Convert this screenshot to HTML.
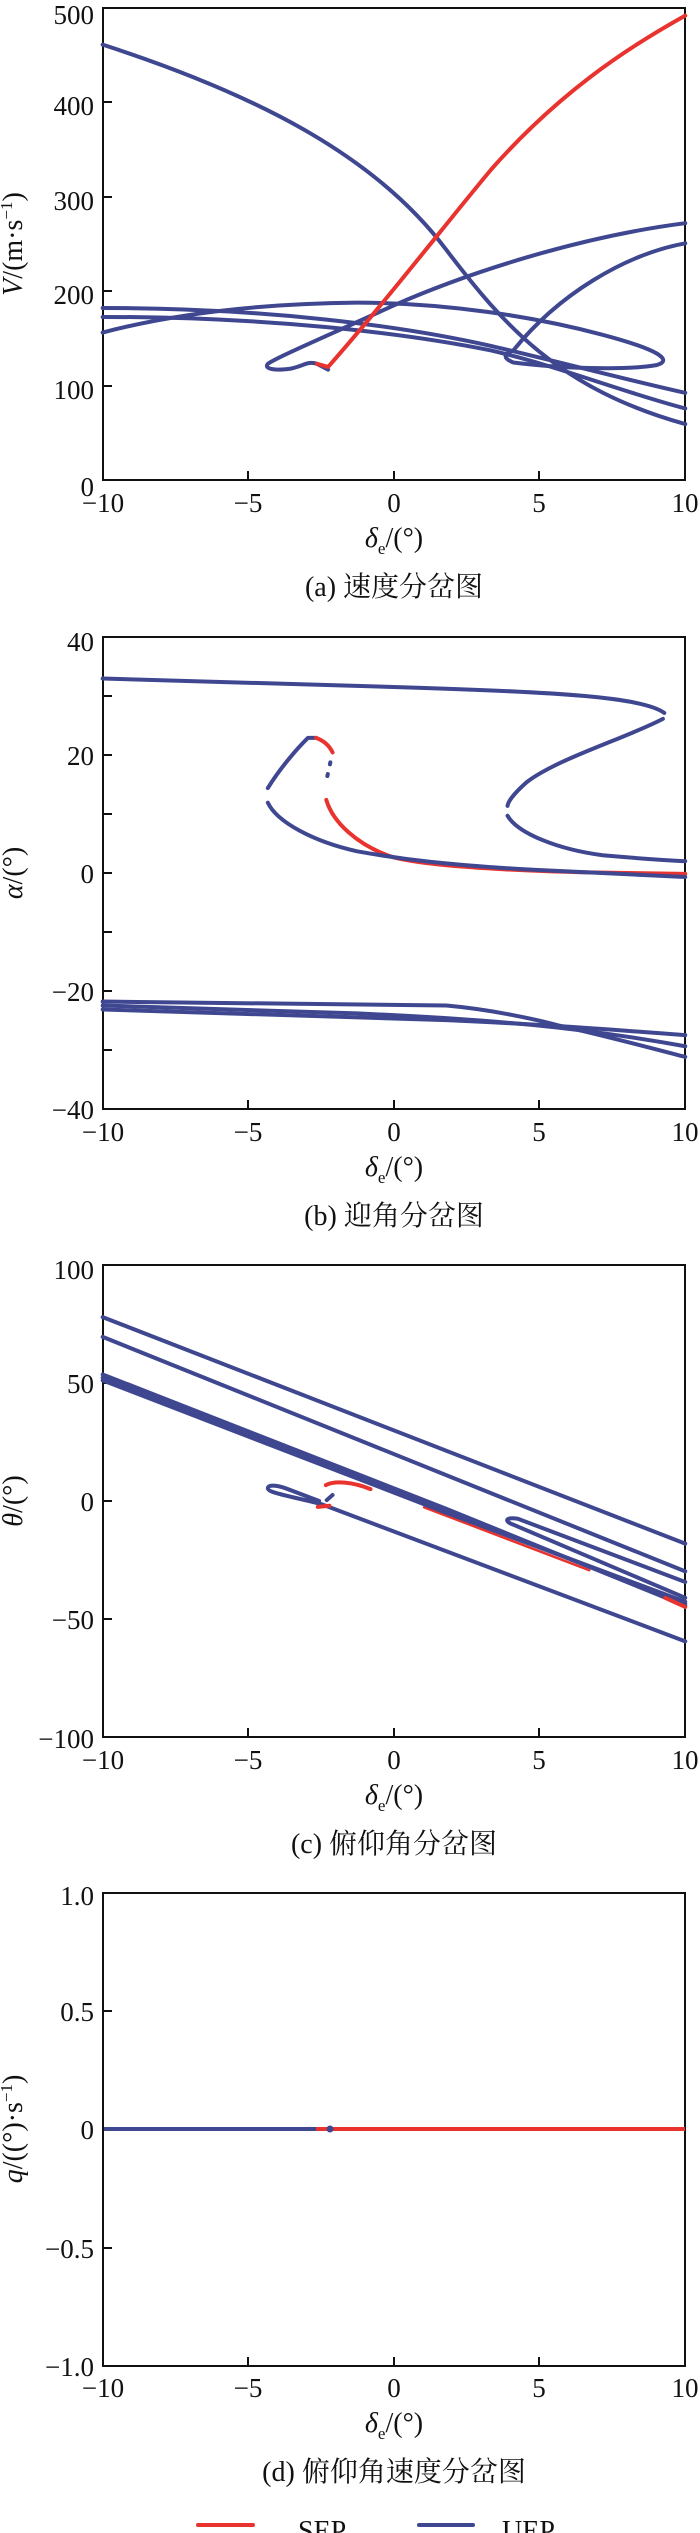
<!DOCTYPE html>
<html><head><meta charset="utf-8"><style>
html,body{margin:0;padding:0;background:#fff;}
svg{display:block;}
text{font-family:"Liberation Serif","Noto Serif CJK SC","Noto Sans CJK SC",serif;fill:#111;}
.b{fill:none;stroke:#3f4790;stroke-width:4;stroke-linecap:round;stroke-linejoin:round;vector-effect:non-scaling-stroke;}
.r{fill:none;stroke:#e8332f;stroke-width:4;stroke-linecap:round;stroke-linejoin:round;vector-effect:non-scaling-stroke;}
.rt{fill:none;stroke:#e8332f;stroke-width:2.5;stroke-linecap:round;vector-effect:non-scaling-stroke;}
.ax{fill:none;stroke:#111;stroke-width:2;}
.tk{font-size:27px;}
.lab{font-size:28px;}
</style></head><body>
<svg width="700" height="2533" viewBox="0 0 700 2533" xmlns="http://www.w3.org/2000/svg">

<!-- Panel a -->
<g>
<rect class="ax" x="103" y="8" width="582" height="472"/>
<g stroke="#111" stroke-width="2">
<line x1="248" y1="480" x2="248" y2="471"/><line x1="394" y1="480" x2="394" y2="471"/><line x1="539" y1="480" x2="539" y2="471"/>
<line x1="103" y1="386" x2="112" y2="386"/><line x1="103" y1="291" x2="112" y2="291"/><line x1="103" y1="197" x2="112" y2="197"/><line x1="103" y1="102" x2="112" y2="102"/>
</g>
<g class="tk" text-anchor="end">
<text x="94" y="496">0</text><text x="94" y="399">100</text><text x="94" y="304">200</text><text x="94" y="210">300</text><text x="94" y="115">400</text><text x="94" y="24">500</text>
</g>
<g class="tk" text-anchor="middle">
<text x="103" y="512">−10</text><text x="248" y="512">−5</text><text x="394" y="512">0</text><text x="539" y="512">5</text><text x="685" y="512">10</text>
</g>
<text class="lab" transform="translate(22,244) rotate(-90)" text-anchor="middle"><tspan font-style="italic">V</tspan>/(m·s<tspan font-size="17" dy="-10">−1</tspan><tspan dy="10">)</tspan></text>
<text class="lab" x="394" y="547" text-anchor="middle"><tspan font-style="italic">δ</tspan><tspan font-size="17" dy="7">e</tspan><tspan dy="-7">/(°)</tspan></text>
<text class="lab" x="394" y="596" text-anchor="middle">(a) 速度分岔图</text>
<g transform="scale(0.4464)">
<path class="b" d="M230,100 C600,220 850,360 1000,560 C1130,730 1250,870 1535,950"/>
<path class="b" d="M230,745 C400,700 600,680 800,678 C1000,678 1200,710 1350,750 C1500,790 1500,810 1470,818 C1400,830 1250,825 1150,812 C1120,800 1135,790 1150,785 C1250,660 1400,570 1535,545"/>
<path class="b" d="M230,690 C600,690 900,730 1100,775 C1250,810 1400,850 1535,880"/>
<path class="b" d="M230,710 C600,710 900,745 1100,785 C1250,820 1400,880 1535,915"/>
<path class="b" d="M1535,500 C1300,530 1050,610 880,685 C750,745 620,800 600,815 C590,828 620,830 650,826 C680,820 690,808 710,815 L735,828"/>
<path class="r" d="M710,815 L735,822 C860,680 1000,500 1100,380 C1250,210 1400,110 1535,35"/>
</g>
</g>

<!-- Panel b -->
<g>
<rect class="ax" x="103" y="637" width="582" height="472"/>
<g stroke="#111" stroke-width="2">
<line x1="248" y1="1109" x2="248" y2="1100"/><line x1="394" y1="1109" x2="394" y2="1100"/><line x1="539" y1="1109" x2="539" y2="1100"/>
<line x1="103" y1="1050" x2="112" y2="1050"/><line x1="103" y1="991" x2="112" y2="991"/><line x1="103" y1="932" x2="112" y2="932"/><line x1="103" y1="873" x2="112" y2="873"/><line x1="103" y1="814" x2="112" y2="814"/><line x1="103" y1="755" x2="112" y2="755"/><line x1="103" y1="696" x2="112" y2="696"/>
</g>
<g class="tk" text-anchor="end">
<text x="94" y="1119">−40</text><text x="94" y="1001">−20</text><text x="94" y="883">0</text><text x="94" y="765">20</text><text x="94" y="651">40</text>
</g>
<g class="tk" text-anchor="middle">
<text x="103" y="1141">−10</text><text x="248" y="1141">−5</text><text x="394" y="1141">0</text><text x="539" y="1141">5</text><text x="685" y="1141">10</text>
</g>
<text class="lab" transform="translate(22,873) rotate(-90)" text-anchor="middle"><tspan font-style="italic">α</tspan>/(°)</text>
<text class="lab" x="394" y="1176" text-anchor="middle"><tspan font-style="italic">δ</tspan><tspan font-size="17" dy="7">e</tspan><tspan dy="-7">/(°)</tspan></text>
<text class="lab" x="394" y="1225" text-anchor="middle">(b) 迎角分岔图</text>
<g transform="translate(0,620) scale(0.4464,0.3954)">
<path class="b" d="M230,148 L900,170 C1250,182 1440,195 1488,235"/>
<path class="b" d="M1485,250 C1400,300 1250,350 1180,410 C1150,440 1138,460 1137,470"/>
<path class="b" d="M1137,495 C1160,540 1250,580 1350,595 C1430,603 1500,608 1535,610"/>
<path class="b" d="M600,425 C630,370 670,320 690,298 L708,298"/>
<path class="r" d="M708,298 C725,305 738,318 745,335"/>
<path class="b" stroke-dasharray="2,10" d="M740,360 L730,412"/>
<path class="r" d="M731,455 C745,510 800,570 880,600 C950,620 1100,632 1300,638 L1535,642"/>
<path class="b" d="M600,462 C620,510 700,560 800,585 C900,605 1000,620 1200,632 L1535,650"/>
<path class="b" d="M230,965 L1000,975 C1100,985 1200,1010 1250,1025 C1350,1050 1450,1080 1535,1105"/>
<path class="b" d="M230,975 L800,995 C1100,1010 1300,1030 1535,1078"/>
<path class="b" d="M230,985 L1000,1012 C1200,1022 1300,1030 1535,1050"/>
</g>
</g>

<!-- Panel c -->
<g>
<rect class="ax" x="103" y="1265" width="582" height="472"/>
<g stroke="#111" stroke-width="2">
<line x1="248" y1="1737" x2="248" y2="1728"/><line x1="394" y1="1737" x2="394" y2="1728"/><line x1="539" y1="1737" x2="539" y2="1728"/>
<line x1="103" y1="1619" x2="112" y2="1619"/><line x1="103" y1="1501" x2="112" y2="1501"/><line x1="103" y1="1383" x2="112" y2="1383"/>
</g>
<g class="tk" text-anchor="end">
<text x="94" y="1748">−100</text><text x="94" y="1629">−50</text><text x="94" y="1511">0</text><text x="94" y="1393">50</text><text x="94" y="1279">100</text>
</g>
<g class="tk" text-anchor="middle">
<text x="103" y="1769">−10</text><text x="248" y="1769">−5</text><text x="394" y="1769">0</text><text x="539" y="1769">5</text><text x="685" y="1769">10</text>
</g>
<text class="lab" transform="translate(22,1501) rotate(-90)" text-anchor="middle"><tspan font-style="italic">θ</tspan>/(°)</text>
<text class="lab" x="394" y="1804" text-anchor="middle"><tspan font-style="italic">δ</tspan><tspan font-size="17" dy="7">e</tspan><tspan dy="-7">/(°)</tspan></text>
<text class="lab" x="394" y="1853" text-anchor="middle">(c) 俯仰角分岔图</text>
<g transform="translate(0,1240) scale(0.4464,0.3954)">
<path class="rt" d="M950,676 L1320,835"/>
<path class="b" d="M230,195 L1535,768"/>
<path class="b" d="M230,245 L1535,838"/>
<path class="b" d="M1535,865 L1160,705 C1130,700 1130,712 1150,720 L1535,905"/>
<path class="b" d="M230,340 L1000,680 L1535,925"/>
<path class="b" d="M230,355 L1000,690 L1535,915"/>
<path class="b" d="M230,348 L1535,920"/>
<path class="b" d="M1535,1015 L720,668 C660,650 600,640 600,628 C600,618 620,620 640,628 L715,660"/>
<path class="r" d="M712,675 L738,672"/>
<path class="b" d="M732,658 L745,645"/>
<path class="r" d="M730,620 C750,608 790,612 830,630"/>
<path class="r" d="M1490,905 L1535,928"/>
</g>
</g>

<!-- Panel d -->
<g>
<rect class="ax" x="103" y="1893" width="582" height="473"/>
<g stroke="#111" stroke-width="2">
<line x1="248" y1="2366" x2="248" y2="2357"/><line x1="394" y1="2366" x2="394" y2="2357"/><line x1="539" y1="2366" x2="539" y2="2357"/>
<line x1="103" y1="2248" x2="112" y2="2248"/><line x1="103" y1="2011" x2="112" y2="2011"/>
</g>
<g class="tk" text-anchor="end">
<text x="94" y="2376">−1.0</text><text x="94" y="2258">−0.5</text><text x="94" y="2139">0</text><text x="94" y="2021">0.5</text><text x="94" y="1905">1.0</text>
</g>
<g class="tk" text-anchor="middle">
<text x="103" y="2397">−10</text><text x="248" y="2397">−5</text><text x="394" y="2397">0</text><text x="539" y="2397">5</text><text x="685" y="2397">10</text>
</g>
<text class="lab" transform="translate(22,2129) rotate(-90)" text-anchor="middle"><tspan font-style="italic">q</tspan>/((°)·s<tspan font-size="17" dy="-10">−1</tspan><tspan dy="10">)</tspan></text>
<text class="lab" x="394" y="2432" text-anchor="middle"><tspan font-style="italic">δ</tspan><tspan font-size="17" dy="7">e</tspan><tspan dy="-7">/(°)</tspan></text>
<text class="lab" x="394" y="2481" text-anchor="middle">(d) 俯仰角速度分岔图</text>
<line x1="104" y1="2129" x2="316" y2="2129" stroke="#3f4790" stroke-width="4"/>
<line x1="316" y1="2129" x2="685" y2="2129" stroke="#e8332f" stroke-width="4"/>
<circle cx="330" cy="2129" r="3.5" fill="#3f4790"/>
<line x1="198" y1="2525" x2="253" y2="2525" stroke="#e8332f" stroke-width="4" stroke-linecap="round"/>
<text class="lab" x="298" y="2540">SEP</text>
<line x1="419" y1="2525" x2="473" y2="2525" stroke="#3f4790" stroke-width="4" stroke-linecap="round"/>
<text class="lab" x="502" y="2540">UEP</text>
</g>
</svg>
</body></html>
